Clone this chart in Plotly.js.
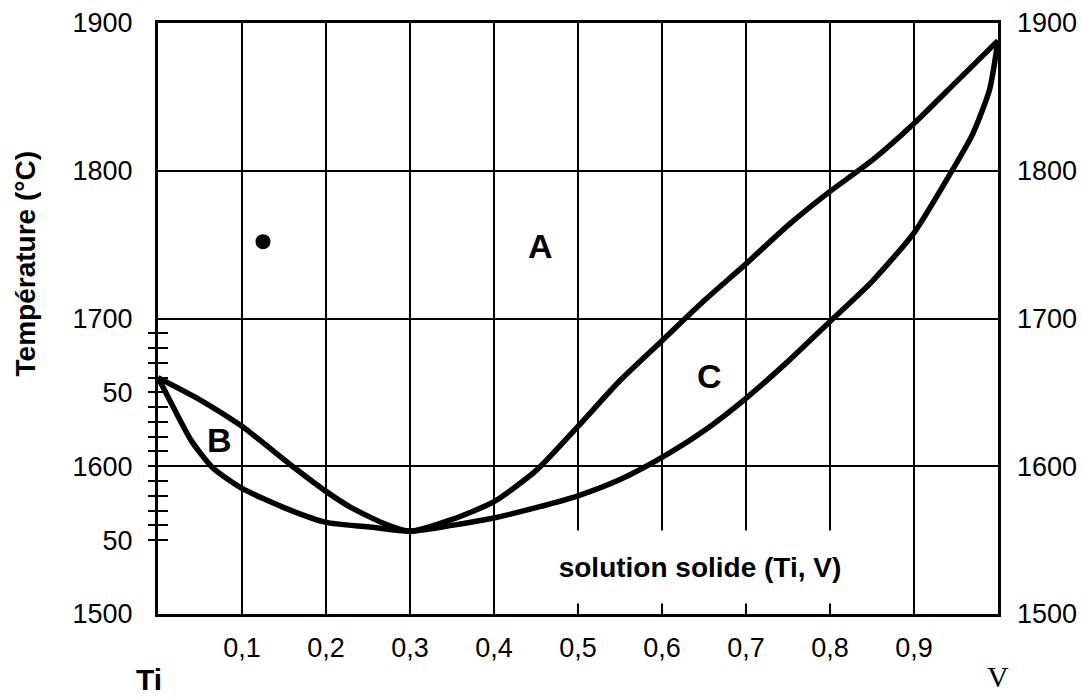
<!DOCTYPE html>
<html><head><meta charset="utf-8">
<script src="https://cdn.plot.ly/plotly-3.0.1.min.js"></script>
<style>html,body{margin:0;padding:0;background:#fff}#chart{width:1082px;height:698px}</style>
</head><body><div id="chart"></div>
<script>
// Liquidus (upper curve)
const liquidusX = [0, 0.05, 0.1, 0.16, 0.2, 0.23, 0.27, 0.3, 0.35, 0.4, 0.45, 0.5, 0.55, 0.6, 0.65, 0.7, 0.75, 0.8, 0.85, 0.9, 0.95, 1.0];
const liquidusT = [1660, 1645, 1627, 1600, 1583, 1572, 1561, 1556, 1564, 1576, 1597, 1627, 1658, 1685, 1712, 1737, 1763, 1786, 1807, 1832, 1860, 1888];
// Solidus (lower curve)
const solidusX = [0, 0.02, 0.04, 0.065, 0.1, 0.15, 0.2, 0.25, 0.3, 0.35, 0.4, 0.45, 0.5, 0.55, 0.6, 0.65, 0.7, 0.75, 0.8, 0.85, 0.9, 0.94, 0.97, 0.99, 1.0];
const solidusT = [1660, 1638, 1617, 1599, 1585, 1572, 1562, 1559, 1556, 1560, 1565, 1572, 1580, 1591, 1606, 1624, 1646, 1671, 1698, 1725, 1758, 1795, 1825, 1855, 1888];
// Isolated point
const pointX = [0.125];
const pointT = [1752];
// Ticks
const xTickVals = [0.1, 0.2, 0.3, 0.4, 0.5, 0.6, 0.7, 0.8, 0.9];
const xTickText = ['0,1', '0,2', '0,3', '0,4', '0,5', '0,6', '0,7', '0,8', '0,9'];
const yLeftVals = [1500, 1550, 1600, 1650, 1700, 1800, 1900];
const yLeftText = ['1500', '50', '1600', '50', '1700', '1800', '1900'];
const yRightVals = [1500, 1600, 1700, 1800, 1900];
const yRightText = ['1500', '1600', '1700', '1800', '1900'];
const yMinorVals = [1550, 1560, 1570, 1580, 1590, 1600, 1610, 1620, 1630, 1640, 1650, 1660, 1670, 1680, 1690];
// Region labels
const regionText = ['A', 'B', 'C'];
const regionX = [0.455, 0.073, 0.656];
const regionT = [1749, 1618, 1661];
const solText = 'solution solide (Ti, V)';
const solX = 0.645, solT = 1532;

const SANS = 'Liberation Sans, Arial, sans-serif';
const yRange = [1500, 1900];

const traces = [
  {x: liquidusX, y: liquidusT, type: 'scatter', mode: 'lines', line: {color: '#000', width: 5.5, shape: 'spline', smoothing: 0.6}, xaxis: 'x', yaxis: 'y', hoverinfo: 'skip'},
  {x: solidusX, y: solidusT, type: 'scatter', mode: 'lines', line: {color: '#000', width: 5.5, shape: 'spline', smoothing: 0.6}, xaxis: 'x', yaxis: 'y2', hoverinfo: 'skip'},
  {x: pointX, y: pointT, type: 'scatter', mode: 'markers', marker: {color: '#000', size: 15}, xaxis: 'x', yaxis: 'y3', hoverinfo: 'skip'}
];

const annotations = regionText.map((t, i) => ({
  x: regionX[i], y: regionT[i], xref: 'x', yref: 'y', xanchor: 'center', yanchor: 'middle',
  text: '<b>' + t + '</b>', showarrow: false,
  font: {family: SANS, size: 34, color: '#000'}
}));
annotations.push({x: solX, y: solT, xref: 'x', yref: 'y', xanchor: 'center', yanchor: 'middle',
  text: '<b>' + solText + '</b>', showarrow: false,
  font: {family: SANS, size: 28, color: '#000'}, bgcolor: '#fff', width: 310, height: 70});
annotations.push({x: -0.158, y: 0.592, xref: 'paper', yref: 'paper', xanchor: 'center', yanchor: 'middle',
  text: '<b>Température (°C)</b>', textangle: -90, showarrow: false,
  font: {family: SANS, size: 28, color: '#000'}});
annotations.push({x: -0.0107, y: -0.11, xref: 'paper', yref: 'paper', xanchor: 'center', yanchor: 'middle',
  text: '<b>Ti</b>', showarrow: false,
  font: {family: SANS, size: 30, color: '#000'}});
annotations.push({x: 1.0, y: -0.105, xref: 'paper', yref: 'paper', xanchor: 'center', yanchor: 'middle',
  text: 'V', showarrow: false,
  font: {family: 'Liberation Serif, Times New Roman, serif', size: 30, color: '#000'}});

const layout = {
  width: 1082, height: 698,
  margin: {l: 158, r: 84, t: 23, b: 84},
  paper_bgcolor: '#fff', plot_bgcolor: '#fff',
  showlegend: false,
  font: {family: SANS, size: 27, color: '#000'},
  xaxis: {range: [0, 1], tickmode: 'array', tickvals: xTickVals, ticktext: xTickText, ticks: '',
    showgrid: true, gridcolor: '#000', gridwidth: 2, zeroline: false,
    showline: true, mirror: true, linecolor: '#000', linewidth: 3, ticklabelstandoff: 8,
    tickfont: {family: SANS, size: 27, color: '#000'}},
  yaxis: {range: yRange, tickmode: 'array', tickvals: yLeftVals, ticktext: yLeftText, ticks: '',
    showgrid: false, zeroline: false, showline: true, mirror: true, linecolor: '#000', linewidth: 3,
    ticklabelstandoff: 17, tickfont: {family: SANS, size: 27, color: '#000'}},
  yaxis2: {range: yRange, overlaying: 'y', side: 'right', tickmode: 'array', tickvals: yRightVals, ticktext: yRightText,
    ticks: '', showgrid: true, gridcolor: '#000', gridwidth: 2, zeroline: false, showline: false,
    ticklabelstandoff: 18, tickfont: {family: SANS, size: 27, color: '#000'}},
  yaxis3: {range: yRange, overlaying: 'y', side: 'left', anchor: 'free', position: 0.012,
    tickmode: 'array', tickvals: yMinorVals, ticks: 'outside', ticklen: 20, tickwidth: 2, tickcolor: '#000',
    showticklabels: false, showgrid: false, zeroline: false, showline: false},
  annotations: annotations
};

Plotly.newPlot('chart', traces, layout, {staticPlot: true, displayModeBar: false});
</script>
</body></html>
